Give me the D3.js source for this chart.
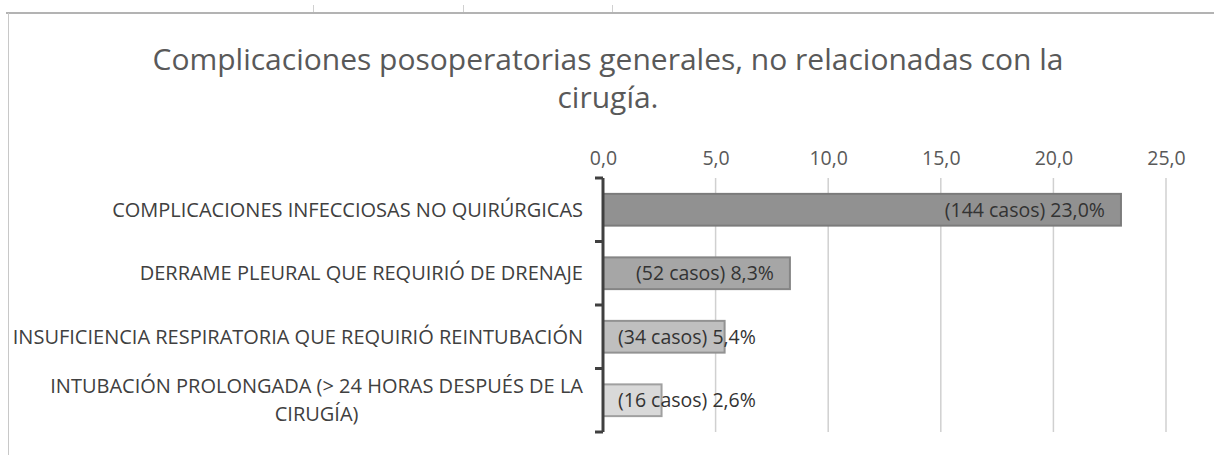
<!DOCTYPE html>
<html>
<head>
<meta charset="utf-8">
<script src="https://cdn.jsdelivr.net/npm/d3@7"></script>
<style>
  html, body { margin: 0; padding: 0; background: #fff; }
  svg { display: block; font-family: "Open Sans", Lato, sans-serif; }
</style>
</head>
<body>
<svg id="chart" width="1214" height="455"></svg>
<script>
const titleLines = ["Complicaciones posoperatorias generales, no relacionadas con la", "cirugía."];
const categories = [
  "COMPLICACIONES INFECCIOSAS NO QUIRÚRGICAS",
  "DERRAME PLEURAL QUE REQUIRIÓ DE DRENAJE",
  "INSUFICIENCIA RESPIRATORIA QUE REQUIRIÓ REINTUBACIÓN",
  "INTUBACIÓN PROLONGADA (> 24 HORAS DESPUÉS DE LA CIRUGÍA)"
];
const percentages = [23.0, 8.3, 5.4, 2.6];
const cases = [144, 52, 34, 16];
const tickValues = [0, 5, 10, 15, 20, 25];
const barFills = ["#919191", "#a6a6a6", "#bfbfbf", "#d9d9d9"];
const barStrokes = ["#7b7b7b", "#858585", "#929292", "#a0a0a0"];

const fmt = v => v.toFixed(1).replace(".", ",");

const svg = d3.select("#chart");
const W = 1214, H = 455;
const margin = { left: 603, right: 48, top: 178, bottom: 23 };

// frame decorations (sheet/chart border)
svg.append("line").attr("x1", 6).attr("x2", W).attr("y1", 13).attr("y2", 13)
  .attr("stroke", "#b3b3b3").attr("stroke-width", 2);
svg.append("line").attr("x1", 8.5).attr("x2", 8.5).attr("y1", 13).attr("y2", H)
  .attr("stroke", "#c8c8c8").attr("stroke-width", 1);
[313, 463, 612].forEach(x => {
  svg.append("line").attr("x1", x + 0.5).attr("x2", x + 0.5).attr("y1", 5).attr("y2", 12)
    .attr("stroke", "#d0d0d0").attr("stroke-width", 1);
});

// title
const title = svg.append("text").attr("text-anchor", "middle")
  .attr("fill", "#595959").style("font-size", "30px");
titleLines.forEach((t, i) => {
  title.append("tspan").attr("x", 608).attr("y", 70 + i * 38).text(t);
});

const x = d3.scaleLinear().domain([0, 25]).range([margin.left, W - margin.right]);
const y = d3.scaleBand().domain(categories).range([margin.top, H - margin.bottom]).paddingInner(0.5).paddingOuter(0.25);

// gridlines
svg.append("g").selectAll("line").data(tickValues.slice(1)).join("line")
  .attr("x1", d => x(d)).attr("x2", d => x(d))
  .attr("y1", margin.top).attr("y2", H - margin.bottom)
  .attr("stroke", "#d0d0d0").attr("stroke-width", 1.5);

// top x axis (labels only)
const xAxis = svg.append("g").attr("transform", `translate(0, ${margin.top - 13})`)
  .call(d3.axisTop(x).tickValues(tickValues).tickFormat(fmt).tickSize(0).tickPadding(0));
xAxis.select(".domain").remove();
xAxis.selectAll("text").attr("fill", "#595959").style("font-size", "19.5px")
  .style("font-family", "'Open Sans', Lato, sans-serif");

// bars
svg.append("g").selectAll("rect").data(categories).join("rect")
  .attr("x", x(0))
  .attr("y", d => y(d))
  .attr("width", (d, i) => x(percentages[i]) - x(0))
  .attr("height", y.bandwidth())
  .attr("fill", (d, i) => barFills[i])
  .attr("stroke", (d, i) => barStrokes[i])
  .attr("stroke-width", 2);

// y axis (left, with band-edge ticks)
const yAxis = svg.append("g");
yAxis.append("line").attr("x1", x(0)).attr("x2", x(0))
  .attr("y1", margin.top).attr("y2", H - margin.bottom)
  .attr("stroke", "#404040").attr("stroke-width", 3);
yAxis.selectAll("line.tick").data([margin.top].concat(categories.slice(1).map(c => y(c) - y.step() * y.paddingInner() / 2), [H - margin.bottom]))
  .join("line").attr("class", "tick")
  .attr("x1", x(0) - 8).attr("x2", x(0))
  .attr("y1", d => d).attr("y2", d => d)
  .attr("stroke", "#404040").attr("stroke-width", 3);

// category labels
const catG = svg.append("g").attr("fill", "#404040").style("font-size", "20px");
const maxLabelW = 592;
categories.forEach((c, i) => {
  const cy = y(c) + y.bandwidth() / 2;
  const t = catG.append("text").attr("text-anchor", "middle");
  const words = c.split(" ");
  let lines = [], cur = "";
  const probe = catG.append("text").style("visibility", "hidden");
  words.forEach(w => {
    const test = cur ? cur + " " + w : w;
    probe.text(test);
    if (probe.node().getComputedTextLength() > maxLabelW && cur) { lines.push(cur); cur = w; }
    else cur = test;
  });
  lines.push(cur);
  const w0 = d3.max(lines, l => { probe.text(l); return probe.node().getComputedTextLength(); });
  probe.remove();
  const lh = 28;
  const right = x(0) - 20;
  const centerX = right - w0 / 2;
  lines.forEach((l, k) => {
    t.append("tspan").attr("x", centerX)
      .attr("y", cy + (k - (lines.length - 1) / 2) * lh)
      .attr("dy", "0.35em").text(l);
  });
});

// data labels
const lblG = svg.append("g").attr("fill", "#333333").style("font-size", "19.5px");
categories.forEach((c, i) => {
  const txt = `(${cases[i]} casos) ${fmt(percentages[i])}%`;
  const t = lblG.append("text").attr("y", y(c) + y.bandwidth() / 2).attr("dy", "0.35em").text(txt);
  const w = t.node().getComputedTextLength();
  const xEnd = x(percentages[i]) - 16;
  const xs = Math.max(xEnd - w, x(0) + 15);
  t.attr("x", xs);
});
</script>
</body>
</html>
